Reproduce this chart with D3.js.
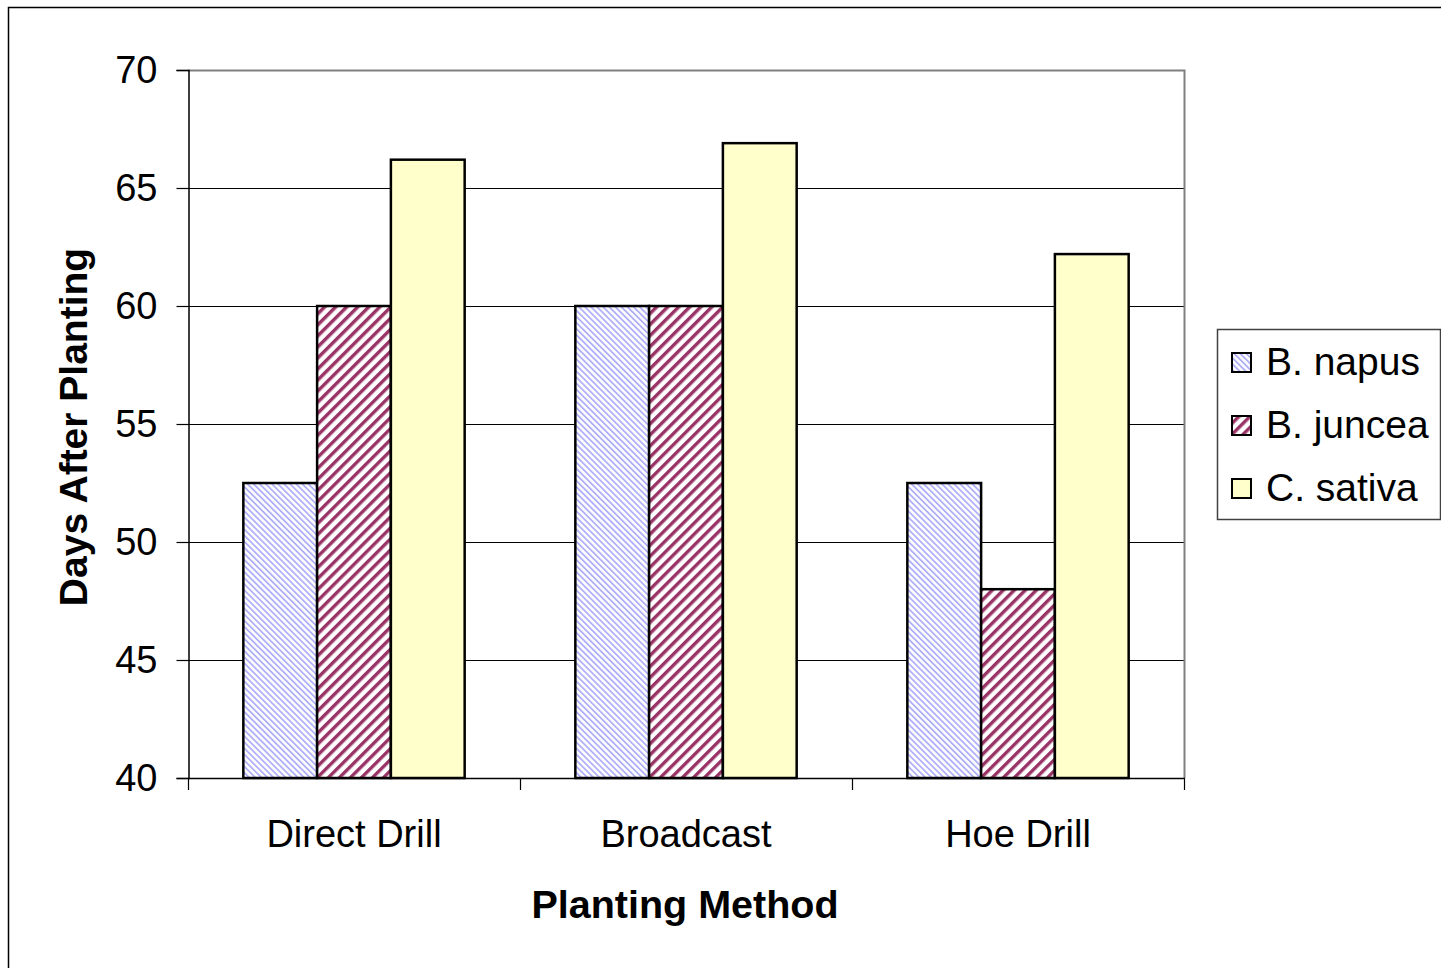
<!DOCTYPE html>
<html>
<head>
<meta charset="utf-8">
<script src="https://cdn.jsdelivr.net/npm/d3@7"></script>
<style>
  html, body { margin: 0; padding: 0; background: #fff; }
  svg { display: block; font-family: "Liberation Sans", Arial, sans-serif; }
</style>
</head>
<body>
<svg id="chart" width="1441" height="968"></svg>
<script>
// Planting methods and days after planting for each species
const categories = ["Direct Drill", "Broadcast", "Hoe Drill"];
const seriesNames = ["B. napus", "B. juncea", "C. sativa"];
const napusDays = [52.5, 60, 52.5];
const junceaDays = [60, 60, 48];
const sativaDays = [66.2, 66.9, 62.2];
const yTicks = [40, 45, 50, 55, 60, 65, 70];

const seriesValues = [napusDays, junceaDays, sativaDays];
const fills = ["url(#napusHatch)", "url(#junceaHatch)", "#FFFFCC"];

const svg = d3.select("#chart");
const W = 1441, H = 968;
const plot = { left: 188, right: 1184, top: 70, bottom: 778 };

// Hatch patterns
const defs = svg.append("defs");
const napus = defs.append("pattern")
  .attr("id", "napusHatch").attr("patternUnits", "userSpaceOnUse")
  .attr("width", 4.3).attr("height", 10)
  .attr("patternTransform", "rotate(-45)");
napus.append("rect").attr("width", 4.3).attr("height", 10).attr("fill", "#ffffff");
napus.append("rect").attr("width", 1.8).attr("height", 10).attr("fill", "#b0b0fa");

const juncea = defs.append("pattern")
  .attr("id", "junceaHatch").attr("patternUnits", "userSpaceOnUse")
  .attr("width", 7.8).attr("height", 10)
  .attr("patternTransform", "rotate(45)");
juncea.append("rect").attr("width", 7.8).attr("height", 10).attr("fill", "#ffffff");
juncea.append("rect").attr("width", 3.4).attr("height", 10).attr("fill", "#993366");

// Outer chart border
svg.append("rect")
  .attr("x", 8.5).attr("y", 7.5).attr("width", W + 20).attr("height", H + 20)
  .attr("fill", "none").attr("stroke", "#000").attr("stroke-width", 1.5);

const y = d3.scaleLinear().domain([40, 70]).range([plot.bottom, plot.top]);
const x0 = d3.scaleBand().domain(categories).range([plot.left, plot.right]).padding(0);
const x1 = d3.scaleBand().domain(seriesNames).range([0, x0.bandwidth()])
  .paddingInner(0).paddingOuter(0.75);

// Gridlines
svg.append("g").selectAll("line")
  .data(yTicks.filter(t => t > 40 && t < 70))
  .join("line")
  .attr("x1", plot.left).attr("x2", plot.right)
  .attr("y1", d => Math.round(y(d)) + 0.5).attr("y2", d => Math.round(y(d)) + 0.5)
  .attr("stroke", "#000").attr("stroke-width", 1);

// Plot area top/right border
svg.append("path")
  .attr("d", `M${plot.left},${plot.top + 0.5}H${plot.right + 0.5}V${plot.bottom}`)
  .attr("fill", "none").attr("stroke", "#808080").attr("stroke-width", 2);

// Bars
const groups = svg.append("g").selectAll("g")
  .data(categories)
  .join("g")
  .attr("transform", d => `translate(${x0(d)},0)`);

groups.selectAll("rect")
  .data((c, ci) => seriesNames.map((s, si) => ({ s, si, v: seriesValues[si][ci] })))
  .join("rect")
  .attr("x", d => x1(d.s))
  .attr("width", x1.bandwidth())
  .attr("y", d => y(d.v))
  .attr("height", d => y(40) - y(d.v))
  .attr("fill", d => fills[d.si])
  .attr("stroke", "#000").attr("stroke-width", 2.5);

// Y axis
const yAxis = svg.append("g")
  .attr("transform", `translate(${plot.left + 0.5},0)`)
  .call(d3.axisLeft(y).tickValues(yTicks).tickSize(12).tickPadding(19).tickFormat(d3.format("d")));
yAxis.select(".domain").attr("stroke", "#000").attr("stroke-width", 1.5);
yAxis.selectAll(".tick line").attr("stroke", "#000").attr("stroke-width", 1.2);
yAxis.selectAll(".tick text")
  .attr("font-size", 38).attr("fill", "#000")
  .attr("font-family", "Liberation Sans, Arial, sans-serif");

// X axis line with tick marks at category boundaries
svg.append("line")
  .attr("x1", plot.left).attr("x2", plot.right + 1)
  .attr("y1", plot.bottom + 0.5).attr("y2", plot.bottom + 0.5)
  .attr("stroke", "#000").attr("stroke-width", 1.5);
const boundaries = categories.map(c => x0(c)).concat([plot.right]);
svg.append("g").selectAll("line")
  .data(boundaries)
  .join("line")
  .attr("x1", d => Math.round(d) + 0.5).attr("x2", d => Math.round(d) + 0.5)
  .attr("y1", plot.bottom).attr("y2", plot.bottom + 12)
  .attr("stroke", "#000").attr("stroke-width", 1.2);

// Category labels
svg.append("g").selectAll("text")
  .data(categories)
  .join("text")
  .attr("x", d => x0(d) + x0.bandwidth() / 2)
  .attr("y", 847)
  .attr("text-anchor", "middle")
  .attr("font-size", 38)
  .text(d => d);

// Axis titles
svg.append("text")
  .attr("x", 685).attr("y", 918)
  .attr("text-anchor", "middle")
  .attr("font-size", 39.5).attr("font-weight", "bold")
  .text("Planting Method");

svg.append("text")
  .attr("transform", `translate(87,${(plot.top + plot.bottom) / 2 + 3}) rotate(-90)`)
  .attr("text-anchor", "middle")
  .attr("font-size", 39).attr("font-weight", "bold")
  .text("Days After Planting");

// Legend
const legend = svg.append("g").attr("transform", "translate(1217,329)");
legend.append("rect")
  .attr("x", 0.5).attr("y", 0.5).attr("width", 223).attr("height", 190)
  .attr("fill", "#fff").attr("stroke", "#404040").attr("stroke-width", 1.5);
const items = legend.selectAll("g.item")
  .data(seriesNames)
  .join("g").attr("class", "item")
  .attr("transform", (d, i) => `translate(0,${33 + i * 63})`);
items.append("rect")
  .attr("x", 15).attr("y", -9).attr("width", 19).attr("height", 19)
  .attr("fill", (d, i) => fills[i])
  .attr("stroke", "#000").attr("stroke-width", 2);
items.append("text")
  .attr("x", 49).attr("y", 13)
  .attr("font-size", 39)
  .text(d => d);
</script>
</body>
</html>
